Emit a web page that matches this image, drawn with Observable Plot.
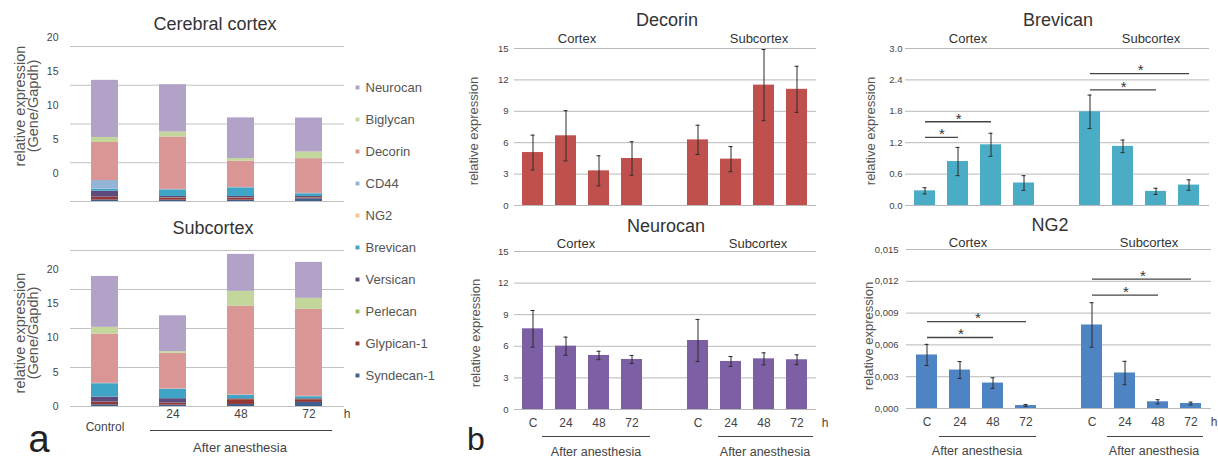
<!DOCTYPE html>
<html><head><meta charset="utf-8">
<script src="https://cdn.jsdelivr.net/npm/d3@7"></script>
<script src="https://cdn.jsdelivr.net/npm/@observablehq/plot@0.6"></script>
<style>
body{margin:0;background:#fff;}
#fig{position:relative;width:1218px;height:460px;overflow:hidden;background:#fff;font-family:"Liberation Sans",Arial,sans-serif;color:#333;}
.t{position:absolute;white-space:nowrap;transform:translate(-50%,-50%);line-height:1;}
.ul{position:absolute;height:0;border-top:1px solid #444;}
</style></head><body><div id="fig"></div>
<script>
const FONT = '"Liberation Sans", Arial, sans-serif';

// ---------- Panel a: stacked composition ----------
const genes = ["Syndecan-1","Glypican-1","Perlecan","Versican","Brevican","NG2","CD44","Decorin","Biglycan","Neurocan"]; // bottom -> top
const geneColors = ["#3f5f8f","#953735","#9bbb59","#604a7b","#40a4c6","#fac090","#95b3d7","#d99694","#c3d69b","#b3a2c7"];
const times = ["Control","24","48","72"];
const yTicksA = [0,5,10,15,20];
const gridA = [0,5.7,11.4,17.1,22.8];
// rows follow genes order, columns follow times
const cortexStack = [
  [0.22,0.20,0.20,0.40],
  [0.38,0.30,0.30,0.14],
  [0.03,0.04,0.04,0.04],
  [0.88,0.20,0.20,0.16],
  [0.30,0.98,1.27,0.40],
  [0.01,0.01,0.01,0.01],
  [1.26,0.05,0.05,0.05],
  [5.60,7.70,3.85,5.10],
  [0.74,0.74,0.40,0.98],
  [8.40,6.96,5.98,5.00]
];
const subcortexStack = [
  [0.25,0.20,0.30,0.60],
  [0.35,0.27,0.70,0.40],
  [0.03,0.02,0.03,0.03],
  [0.74,0.65,0.10,0.10],
  [1.96,1.37,0.49,0.30],
  [0.01,0.01,0.01,0.01],
  [0.05,0.05,0.05,0.05],
  [7.20,5.20,12.95,12.70],
  [0.98,0.25,2.20,1.62],
  [7.44,5.24,5.40,5.25]
];

// ---------- Panel b: bar charts with error bars ----------
const xKeys = ["Cortex C","Cortex 24","Cortex 48","Cortex 72","gap","Subcortex C","Subcortex 24","Subcortex 48","Subcortex 72"];
const xTickLabels = ["C","24","48","72","","C","24","48","72"];
const barKeys = xKeys.filter(k => k !== "gap");

const decorinMean = [5.06,6.66,3.31,4.49,6.27,4.43,11.5,11.1];
const decorinErr  = [1.66,2.4,1.44,1.6,1.4,1.2,3.4,2.2];
const brevicanMean = [0.28,0.84,1.16,0.43,1.79,1.13,0.27,0.39];
const brevicanErr  = [0.06,0.27,0.22,0.14,0.32,0.12,0.06,0.1];
const neurocanMean = [7.66,6.01,5.13,4.75,6.55,4.56,4.81,4.72];
const neurocanErr  = [1.74,0.86,0.4,0.38,2.0,0.47,0.57,0.47];
const ng2Mean = [0.00505,0.00363,0.0024,0.00028,0.00788,0.00335,0.00063,0.00047];
const ng2Err  = [0.001,0.0008,0.0005,0.0001,0.0021,0.0011,0.0002,0.00013];

const ticks15 = [0,3,6,9,12,15];
const ticksBrev = [0,0.6,1.2,1.8,2.4,3.0];
const ticksNg2 = [0,0.003,0.006,0.009,0.012,0.015];

const brevicanSig = [["Cortex C","Cortex 24",1.3],["Cortex C","Cortex 48",1.6],["Subcortex C","Subcortex 48",2.21],["Subcortex C","Subcortex 72",2.52]];
const ng2Sig = [["Cortex C","Cortex 48",0.0067],["Cortex C","Cortex 72",0.0082],["Subcortex C","Subcortex 48",0.0107],["Subcortex C","Subcortex 72",0.0122]];

// ---------- helpers ----------
const fig = document.getElementById("fig");
function place(el, left, top){ el.style.position="absolute"; el.style.left=left+"px"; el.style.top=top+"px"; fig.appendChild(el); }
function label(text, x, y, size, opts={}){
  const d = document.createElement("div");
  d.className = "t"; d.textContent = text;
  d.style.left = x+"px"; d.style.top = y+"px"; d.style.fontSize = size+"px";
  d.style.color = opts.color || "#333";
  if (opts.rotate) d.style.transform = "translate(-50%,-50%) rotate(-90deg)";
  fig.appendChild(d);
}
function uline(x1, x2, y){
  const d = document.createElement("div"); d.className="ul";
  d.style.left = x1+"px"; d.style.top = y+"px"; d.style.width = (x2-x1)+"px";
  fig.appendChild(d);
}
const baseStyle = {background:"transparent", fontFamily: FONT, color:"#444", overflow:"visible"};

function stackPlot(matrix, {top, height, mt, mb, labelDy, xLabels}){
  const rows = [];
  genes.forEach((g, gi) => times.forEach((t, ti) => rows.push({gene:g, time:t, value:matrix[gi][ti]})));
  const marks = [
    Plot.ruleY(gridA, {stroke:"#c2c2c2"}),
    Plot.barY(rows, {x:"time", y:"value", fill:"gene", order: genes}),
    Plot.axisY(yTicksA, {tickSize:0, tickPadding:12, fontSize:10.5, dy:labelDy, label:null})
  ];
  if (xLabels){
    marks.push(Plot.axisX({tickSize:0, tickPadding:3, fontSize:12, label:null, tickFormat: d => d === "Control" ? "" : d}));
    marks.push(Plot.text(["Control"], {x: d => d, y: () => 0, dy: 21, fontSize: 12, fill:"#444"}));
  }
  const svg = Plot.plot({
    width:350, height, marginLeft:70, marginRight:6, marginTop:mt, marginBottom:mb,
    x:{domain: times, paddingInner:0.6, paddingOuter:0.3, ...(xLabels ? {} : {axis:null})},
    y:{domain:[0, gridA[gridA.length-1]]},
    color:{domain: genes, range: geneColors},
    style: baseStyle,
    marks
  });
  place(svg, 0, top);
}

function barPlot(cfg){
  const {mean, err, color, left, top, width, height, ml, mr, mt, mb, yTicks, fmt, pad, xAxis, sig} = cfg;
  const rows = barKeys.map((k,i) => ({key:k, mean:mean[i], err:err[i]}));
  const step = (width - ml - mr) / xKeys.length;
  const marks = [
    Plot.ruleY(yTicks, {stroke:"#b9b9b9"}),
    Plot.barY(rows, {x:"key", y:"mean", fill: color}),
    Plot.ruleX(rows, {x:"key", y1: d => d.mean - d.err, y2: d => d.mean + d.err, stroke:"#2b2b2b", strokeWidth:1}),
    Plot.tickY(rows, {x:"key", y: d => d.mean + d.err, stroke:"#2b2b2b", insetLeft:8.5, insetRight:8.5}),
    Plot.tickY(rows, {x:"key", y: d => d.mean - d.err, stroke:"#2b2b2b", insetLeft:8.5, insetRight:8.5}),
    Plot.axisY(yTicks, {tickSize:0, tickPadding:pad, tickFormat: fmt, fontSize:9.5, label:null})
  ];
  if (xAxis) marks.push(Plot.axisX({tickSize:0, tickPadding:9, fontSize:12, label:null, tickFormat: d => xTickLabels[xKeys.indexOf(d)]}));
  if (sig){
    marks.push(Plot.link(sig, {x1: d => d[0], x2: d => d[1], y1: d => d[2], y2: d => d[2], stroke:"#444", strokeWidth:1.3}));
    sig.forEach(s => {
      const off = (xKeys.indexOf(s[1]) - xKeys.indexOf(s[0])) / 2 * step;
      marks.push(Plot.text([s], {x: d => d[0], y: d => d[2], text: () => "*", dx: off, dy: -3, fontSize: 15, fill:"#333"}));
    });
  }
  const svg = Plot.plot({
    width, height, marginLeft:ml, marginRight:mr, marginTop:mt, marginBottom:mb,
    x:{domain: xKeys, paddingInner:0.35, paddingOuter:0.175, ...(xAxis ? {} : {axis:null})},
    y:{domain:[yTicks[0], yTicks[yTicks.length-1]]},
    style: baseStyle,
    marks
  });
  place(svg, left, top);
}

// ---------- Panel a ----------
stackPlot(cortexStack, {top:28, height:176, mt:18, mb:3, labelDy:-28, xLabels:false});
stackPlot(subcortexStack, {top:236, height:224, mt:14, mb:54, labelDy:0, xLabels:true});

const legendOrder = genes.slice().reverse();
const legend = Plot.plot({
  width:115, height:330, marginLeft:0, marginRight:0, marginTop:17, marginBottom:18,
  y:{type:"point", domain: legendOrder, padding:0, axis:null},
  color:{domain: genes, range: geneColors},
  style: baseStyle,
  marks:[
    Plot.dot(legendOrder, {y: d => d, fill: d => d, symbol:"square", r:2.2, frameAnchor:"left", dx:12}),
    Plot.text(legendOrder, {y: d => d, text: d => d, frameAnchor:"left", dx:20, textAnchor:"start", fontSize:13, fill:"#555"})
  ]
});
place(legend, 345, 66);

label("Cerebral cortex", 215, 24, 18);
label("Subcortex", 213, 228, 18);
label("relative expression", 20, 106, 14.5, {rotate:true, color:"#555"});
label("(Gene/Gapdh)", 33, 106, 14.5, {rotate:true, color:"#555"});
label("relative expression", 20, 333, 14.5, {rotate:true, color:"#555"});
label("(Gene/Gapdh)", 33, 333, 14.5, {rotate:true, color:"#555"});
label("h", 347, 414, 12, {color:"#444"});
uline(150, 332, 430);
label("After anesthesia", 240, 447, 13, {color:"#444"});
label("a", 39, 439, 38, {color:"#222"});

// ---------- Panel b ----------
barPlot({mean:decorinMean, err:decorinErr, color:"#c0504d", left:460, top:0, width:370, height:215, ml:54, mr:14, mt:48, mb:10, yTicks:ticks15, fmt: d3.format("d"), pad:6, xAxis:false});
barPlot({mean:brevicanMean, err:brevicanErr, color:"#4bacc6", left:860, top:0, width:358, height:215, ml:45, mr:9, mt:48, mb:10, yTicks:ticksBrev, fmt: d3.format(".1f"), pad:3, xAxis:false, sig:brevicanSig});
barPlot({mean:neurocanMean, err:neurocanErr, color:"#7d5fa5", left:460, top:215, width:370, height:245, ml:54, mr:14, mt:36, mb:51, yTicks:ticks15, fmt: d3.format("d"), pad:6, xAxis:true});
barPlot({mean:ng2Mean, err:ng2Err, color:"#4f84c4", left:860, top:215, width:358, height:245, ml:46, mr:7, mt:34, mb:52, yTicks:ticksNg2, fmt: d => d3.format(".3f")(d).replace(".", ","), pad:8, xAxis:true, sig:ng2Sig});

label("Decorin", 667, 20, 18);
label("Brevican", 1058, 20, 18);
label("Neurocan", 666, 226, 18);
label("NG2", 1050, 225, 18);
label("Cortex", 577, 38, 13);
label("Subcortex", 759, 38, 13);
label("Cortex", 968, 38, 13);
label("Subcortex", 1151, 38, 13);
label("Cortex", 576, 243, 13);
label("Subcortex", 758, 243, 13);
label("Cortex", 968, 242, 13);
label("Subcortex", 1149, 242, 13);
label("relative expression", 473, 131, 13, {rotate:true, color:"#555"});
label("relative expression", 870, 131, 13, {rotate:true, color:"#555"});
label("relative expression", 475, 333, 13, {rotate:true, color:"#555"});
label("relative expression", 868, 336, 13, {rotate:true, color:"#555"});
label("h", 825, 423, 12, {color:"#444"});
label("h", 1214, 422, 12, {color:"#444"});
uline(542, 650, 436);
uline(718, 813, 436);
uline(939, 1036, 436);
uline(1107, 1203, 436);
label("After anesthesia", 596, 452, 12.5, {color:"#444"});
label("After anesthesia", 765, 452, 12.5, {color:"#444"});
label("After anesthesia", 977, 451, 12.5, {color:"#444"});
label("After anesthesia", 1154, 451, 12.5, {color:"#444"});
label("b", 476, 439, 32, {color:"#222"});
</script></body></html>
